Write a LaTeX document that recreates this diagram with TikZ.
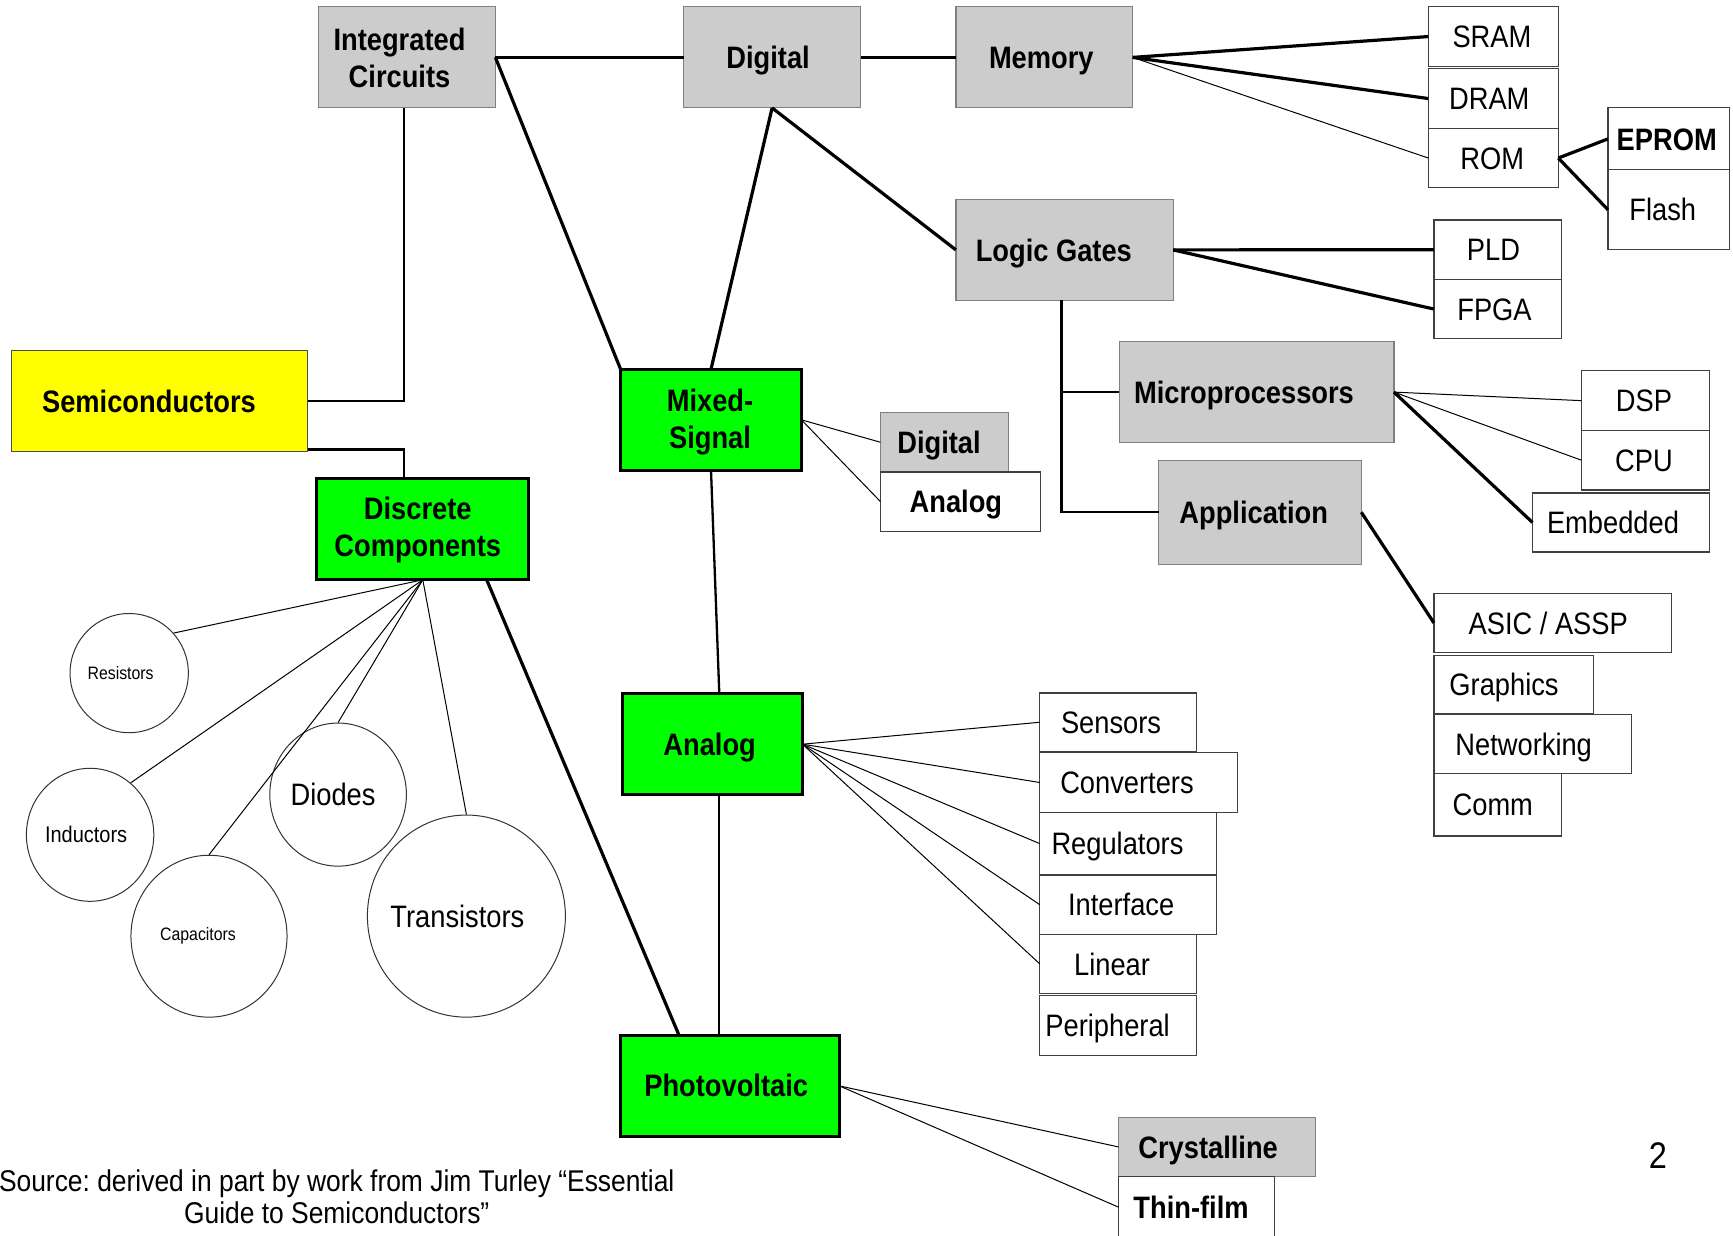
\documentclass[tikz,border=0pt]{standalone}
\usepackage{fontspec}
\setmainfont{Liberation Sans}[FakeStretch=0.88]
\usetikzlibrary{shapes.geometric}
\definecolor{grn}{HTML}{00FF00}
\definecolor{ylw}{HTML}{FFFF00}
\definecolor{gfill}{HTML}{CCCCCC}
\frenchspacing
\begin{document}
\begin{tikzpicture}[x=1pt,y=-1pt,
  base/.style={rectangle, anchor=north west, outer sep=0pt, inner sep=0pt},
  gbox/.style={base, draw=black!50, fill=gfill, line width=1.2pt},
  wbox/.style={base, draw=black!75, fill=white, line width=1.2pt},
  grbox/.style={base, draw=black, fill=grn, line width=3pt},
  ybox/.style={base, draw=black!70, fill=ylw, line width=1.2pt},
  bl2/.style={font=\bfseries\fontsize{31}{37}\selectfont, align=center, inner sep=0pt},
  bl/.style={font=\bfseries\fontsize{31}{37}\selectfont, inner sep=0pt, text height=22.2pt, text depth=0pt},
  rl/.style={font=\fontsize{31}{37}\selectfont, inner sep=0pt, text height=22.2pt, text depth=0pt},
  txt/.style={align=center, inner sep=0pt},
  comp/.style={ellipse, draw=black!80, line width=1pt, inner sep=0pt, fill=white},
  thk/.style={line width=3.2pt},
  med/.style={line width=2.3pt},
  thn/.style={line width=1pt}
]
\useasboundingbox (0,0) rectangle (1733,1236);

% ---- boxes ----
\node[gbox, minimum width=176.8pt, minimum height=101pt, label={[bl2,xshift=-7.5pt,yshift=-1pt]center:Integrated\\Circuits}] (ic) at (318.6,6.9) {};
\node[gbox, minimum width=176.8pt, minimum height=101pt, label={[bl,xshift=-4pt]center:Digital}] (dig) at (683.7,6.9) {};
\node[gbox, minimum width=176.8pt, minimum height=101pt, label={[bl,xshift=-3pt]center:Memory}] (mem) at (955.9,6.9) {};
\node[wbox, minimum width=130pt, minimum height=59.3pt, label={[rl,xshift=-1.4pt]center:SRAM}] (sram) at (1428.3,6.9) {};
\node[wbox, minimum width=130pt, minimum height=59.3pt, label={[rl,xshift=-4pt]center:DRAM}] (dram) at (1428.3,68.9) {};
\node[wbox, minimum width=130pt, minimum height=59.7pt, label={[rl,xshift=-1pt]center:ROM}] (rom) at (1428.3,128.2) {};
\node[wbox, minimum width=121.6pt, minimum height=62pt, label={[bl,xshift=-2pt]center:EPROM}] (eprom) at (1607.9,107.9) {};
\node[wbox, minimum width=121.6pt, minimum height=79.6pt, label={[rl,xshift=-6pt]center:Flash}] (flash) at (1607.9,169.9) {};
\node[gbox, minimum width=217.3pt, minimum height=101pt, label={[bl,xshift=-10.7pt]center:Logic Gates}] (logic) at (955.9,199.4) {};
\node[wbox, minimum width=127.2pt, minimum height=59.4pt, label={[rl,xshift=-4pt]center:PLD}] (pld) at (1433.9,220) {};
\node[wbox, minimum width=127.2pt, minimum height=59.3pt, label={[rl,xshift=-3pt]center:FPGA}] (fpga) at (1433.9,279.4) {};
\node[gbox, minimum width=274.8pt, minimum height=100.6pt, label={[bl,xshift=-12.5pt]center:Microprocessors}] (micro) at (1119.1,341.8) {};
\node[gbox, minimum width=202.7pt, minimum height=103.7pt, label={[bl,xshift=-6.3pt]center:Application}] (app) at (1158.6,460.4) {};
\node[gbox, minimum width=127.8pt, minimum height=59.3pt, label={[bl,xshift=-5.3pt]center:Digital}] (dsm) at (880.4,412.6) {};
\node[wbox, minimum width=159.9pt, minimum height=59.3pt, label={[bl,xshift=-4.5pt]center:Analog}] (anl) at (880.4,471.9) {};
\node[wbox, minimum width=127.8pt, minimum height=59.7pt, label={[rl,xshift=-1.4pt]center:DSP}] (dsp) at (1581.4,370.8) {};
\node[wbox, minimum width=127.8pt, minimum height=59.4pt, label={[rl,xshift=-1.4pt]center:CPU}] (cpu) at (1581.4,430.5) {};
\node[wbox, minimum width=176.8pt, minimum height=59pt, label={[rl,xshift=-7.8pt]center:Embedded}] (emb) at (1532.4,492.9) {};
\node[wbox, minimum width=237.6pt, minimum height=59pt, label={[rl,xshift=-4.5pt]center:ASIC / ASSP}] (asic) at (1433.9,593.4) {};
\node[wbox, minimum width=159.3pt, minimum height=58.6pt, label={[rl,xshift=-9.5pt]center:Graphics}] (gra) at (1433.9,655.3) {};
\node[wbox, minimum width=197.6pt, minimum height=59pt, label={[rl,xshift=-9pt]center:Networking}] (net) at (1433.9,714.7) {};
\node[wbox, minimum width=127.2pt, minimum height=62.3pt, label={[rl,xshift=-4.7pt]center:Comm}] (com) at (1433.9,773.7) {};
\node[wbox, minimum width=156.5pt, minimum height=58.5pt, label={[rl,xshift=-7pt]center:Sensors}] (sen) at (1039.8,693) {};
\node[wbox, minimum width=197.6pt, minimum height=59.4pt, label={[rl,xshift=-11.6pt]center:Converters}] (con) at (1039.8,752.8) {};
\node[wbox, minimum width=176.8pt, minimum height=62.8pt, label={[rl,xshift=-10.7pt]center:Regulators}] (reg) at (1039.8,812.2) {};
\node[wbox, minimum width=176.8pt, minimum height=59.4pt, label={[rl,xshift=-7pt]center:Interface}] (int) at (1039.8,875) {};
\node[wbox, minimum width=156.5pt, minimum height=59pt, label={[rl,xshift=-6pt]center:Linear}] (lin) at (1039.8,934.4) {};
\node[wbox, minimum width=156.5pt, minimum height=60.2pt, label={[rl,xshift=-10.4pt]center:Peripheral}] (per) at (1039.8,995.5) {};
\node[gbox, minimum width=197.1pt, minimum height=58.5pt, label={[bl,xshift=-9pt]center:Crystalline}] (cry) at (1118.6,1117.7) {};
\node[wbox, minimum width=155.9pt, minimum height=62pt, label={[bl,xshift=-5.5pt]center:Thin-film}] (tf) at (1118.6,1176.2) {};
\node[ybox, minimum width=296.2pt, minimum height=101pt, label={[bl,xshift=-10.6pt]center:Semiconductors}] (semi) at (11.5,350.6) {};
\node[grbox, minimum width=211.8pt, minimum height=101.4pt, label={[bl2,xshift=-5pt,yshift=-1pt]center:Discrete\\Components}] (disc) at (316.9,478.4) {};
\node[grbox, minimum width=180.8pt, minimum height=101pt, label={[bl2,xshift=-1pt,yshift=-2pt]center:Mixed-\\Signal}] (mix) at (620.6,369.3) {};
\node[grbox, minimum width=179.7pt, minimum height=100.8pt, label={[bl,xshift=-3pt]center:Analog}] (ana) at (622.8,693.8) {};
\node[grbox, minimum width=219.3pt, minimum height=101.3pt, label={[bl,xshift=-3.5pt]center:Photovoltaic}] (pv) at (620,1035.2) {};

% ---- component circles ----
\node[comp, minimum width=118.3pt, minimum height=119.2pt, label={[txt,font=\fontsize{18}{20}\selectfont,xshift=-8.6pt]center:Resistors}] (res) at (129.2,673.1) {};
\node[comp, minimum width=127.4pt, minimum height=133pt, label={[txt,font=\fontsize{22.7}{25}\selectfont,xshift=-4pt]center:Inductors}] (ind) at (90.1,834.8) {};
\node[comp, minimum width=136.6pt, minimum height=143.1pt, label={[rl,xshift=-5pt]center:Diodes}] (dio) at (338.1,794.6) {};
\node[comp, minimum width=156.1pt, minimum height=161.9pt, label={[txt,font=\fontsize{18}{20}\selectfont,xshift=-11pt]center:Capacitors}] (cap) at (209,936.2) {};
\node[comp, minimum width=198pt, minimum height=202.1pt, label={[rl,xshift=-9pt]center:Transistors}] (tra) at (466.4,916.1) {};

% ---- texts ----
\node[txt, font=\fontsize{30}{32}\selectfont] (src) at (336.7,1196.5) {Source: derived in part by work from Jim Turley “Essential\\Guide to Semiconductors”};
\node[txt, font=\fontsize{37}{40}\selectfont] (pg) at (1658,1155.3) {2};

% ---- connectors ----
\draw[thk] (ic.east) -- (dig.west);
\draw[thk] (dig.east) -- (mem.west);
\draw[thk] (ic.east) -- (mix.north west);
\draw[med] ([xshift=-3pt]ic.south) |- (semi.east);
\draw[med] ([yshift=2pt]semi.south east) -| ([xshift=-19pt]disc.north);
\draw[thk] (dig.south) -- (mix.north);
\draw[thk] (dig.south) -- (logic.west);
\draw[thk] (mem.east) -- (sram.west);
\draw[thk] (mem.east) -- (dram.west);
\draw[thn] (mem.east) -- (rom.west);
\draw[thk] (rom.east) -- (eprom.west);
\draw[thk] (rom.east) -- (flash.west);
\draw[thk] (logic.east) -- (pld.west);
\draw[thk] (logic.east) -- (fpga.west);
\draw[med] ([xshift=-3pt]logic.south) |- (micro.west);
\draw[med] ([xshift=-3pt]logic.south) |- (app.west);
\draw[thn] (micro.east) -- (dsp.west);
\draw[thn] (micro.east) -- (cpu.west);
\draw[thk] (micro.east) -- (emb.west);
\draw[thk] (app.east) -- (asic.west);
\draw[thn] (mix.east) -- (dsm.west);
\draw[thn] (mix.east) -- (anl.west);
\draw[med] (mix.south) -- ([xshift=6.65pt]ana.north);
\draw[med] ([xshift=6.65pt]ana.south) -- ([xshift=-10.35pt]pv.north);
\draw[thn] (ana.east) -- (sen.west);
\draw[thn] (ana.east) -- (con.west);
\draw[thn] (ana.east) -- (reg.west);
\draw[thn] (ana.east) -- (int.west);
\draw[thn] (ana.east) -- (lin.west);
\draw[thn] (pv.east) -- (cry.west);
\draw[thn] (pv.east) -- (tf.west);
\draw[thk] ([xshift=-42pt]disc.south east) -- ([xshift=59pt]pv.north west);
\draw[thn] (disc.south) -- (res.42);
\draw[thn] (disc.south) -- (ind.52);
\draw[thn] (disc.south) -- (dio.north);
\draw[thn] (disc.south) -- (cap.north);
\draw[thn] (disc.south) -- (tra.north);
\end{tikzpicture}
\end{document}
